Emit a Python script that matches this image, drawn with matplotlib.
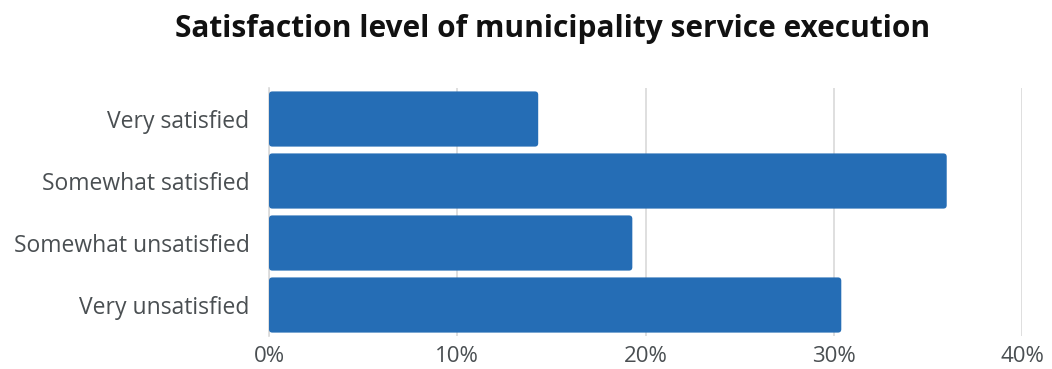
import matplotlib.pyplot as plt
from matplotlib.patches import FancyBboxPatch
from matplotlib.ticker import FuncFormatter

categories = ["Very satisfied", "Somewhat satisfied", "Somewhat unsatisfied", "Very unsatisfied"]
values = [14.3, 36.0, 19.3, 30.4]
x_ticks = [0, 10, 20, 30, 40]

bar_color = "#256db5"
text_color = "#4a4f52"

plt.rcParams['font.family'] = ['Open Sans', 'DejaVu Sans']

fig = plt.figure(figsize=(10.52, 3.69), dpi=100)
ax = fig.add_axes([0.2557, 0.0894, 0.7158, 0.6721])

ypos = list(range(len(categories)))
bars = ax.barh(ypos, values, height=0.89, color=bar_color)

# swap rectangles for rounded boxes
for b in bars:
    x, y, w, h = b.get_x(), b.get_y(), b.get_width(), b.get_height()
    b.set_visible(False)
    rb = FancyBboxPatch((x, y), w, h,
                        boxstyle="round,pad=0,rounding_size=0.18",
                        mutation_aspect=0.3, facecolor=bar_color,
                        edgecolor="none", zorder=3)
    ax.add_patch(rb)

ax.set_ylim(len(categories) - 0.5, -0.5)
ax.set_xlim(0, 40)
ax.set_yticks(ypos)
ax.set_yticklabels(categories, fontsize=16.5, color=text_color)
ax.set_xticks(x_ticks)
ax.xaxis.set_major_formatter(FuncFormatter(lambda v, p: f"{int(v)}%"))
ax.tick_params(axis='x', labelsize=16, labelcolor=text_color, length=0, pad=7)
ax.tick_params(axis='y', length=0, pad=14)

ax.grid(axis='x', color="#d9d9d9", linewidth=1.2, zorder=0)
ax.set_axisbelow(True)
for s in ["top", "right", "bottom"]:
    ax.spines[s].set_visible(False)
ax.spines["left"].set_color("#d9d9d9")
ax.spines["left"].set_linewidth(1.2)

fig.text(0.525, 0.922, "Satisfaction level of municipality service execution",
         ha="center", va="center", fontsize=21.5, fontweight="bold", color="#111111")

fig.savefig("out.png", dpi=100)
